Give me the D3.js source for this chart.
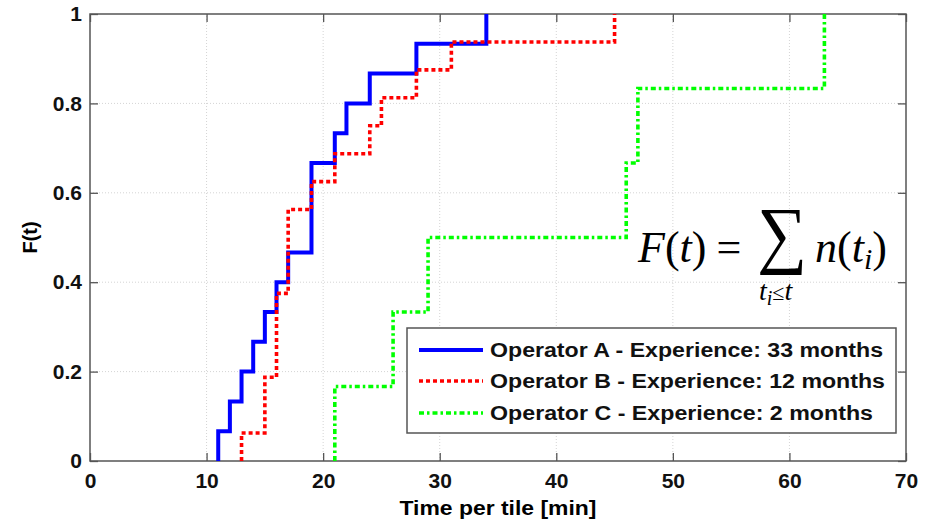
<!DOCTYPE html>
<html>
<head>
<meta charset="utf-8">
<script src="https://cdn.jsdelivr.net/npm/d3@7"></script>
<style>
  body { margin: 0; background: #fff; }
  text { font-family: "Liberation Sans", Arial, sans-serif; }
  text.math { font-family: "Liberation Serif", "DejaVu Serif", serif; }
</style>
</head>
<body>
<div id="chart"></div>
<script>
const width = 926;
const height = 520;
const margin = { top: 14, right: 20, bottom: 59, left: 90 };

// tile times per operator [min], one entry per tile
const opA = [11, 12, 13, 14, 15, 16, 17, 19, 19, 19, 21, 22, 24, 28, 34];
const opB = [13, 15, 15, 16, 16, 16, 17, 17, 17, 19, 21, 24, 25, 28, 31, 45];
const opC = [21, 26, 29, 46, 47, 63];

const seriesNames = [
  "Operator A - Experience: 33 months",
  "Operator B - Experience: 12 months",
  "Operator C - Experience: 2 months",
];
const xTicks = [0, 10, 20, 30, 40, 50, 60, 70];
const yTicks = [0, 0.2, 0.4, 0.6, 0.8, 1];

const colors = ["#0000ff", "#ff0000", "#00ff00"];
const dashes = [null, "4,3", "5,3,2.5,3"];
const legendWidths = [393, 395, 383];

let svg = d3
  .select("#chart")
  .append("svg")
  .attr("width", width)
  .attr("height", height);

let x = d3.scaleLinear().domain([0, 70]).range([margin.left, width - margin.right]);
let y = d3.scaleLinear().domain([0, 1]).range([height - margin.bottom, margin.top]);

// grid
svg
  .selectAll(".vgrid")
  .data(xTicks.slice(1, -1))
  .enter()
  .append("line")
  .attr("x1", (d) => x(d))
  .attr("x2", (d) => x(d))
  .attr("y1", y(0))
  .attr("y2", y(1))
  .attr("stroke", "#d4d4d4")
  .attr("stroke-dasharray", "1,2");
svg
  .selectAll(".hgrid")
  .data(yTicks.slice(1, -1))
  .enter()
  .append("line")
  .attr("x1", x(0))
  .attr("x2", x(70))
  .attr("y1", (d) => y(d))
  .attr("y2", (d) => y(d))
  .attr("stroke", "#d4d4d4")
  .attr("stroke-dasharray", "1,2");

// axes (matlab style: ticks inside, on all four sides)
function styleAxis(g) {
  g.select(".domain").remove();
  g.selectAll(".tick line").attr("stroke", "#555").attr("stroke-width", 1.3);
  g.selectAll(".tick text")
    .attr("font-size", 21)
    .attr("font-weight", "bold")
    .attr("fill", "#111");
}
svg.append("g")
  .attr("transform", `translate(0,${y(0)})`)
  .call(d3.axisBottom(x).tickValues(xTicks).tickSizeInner(-8).tickPadding(12))
  .call(styleAxis);
svg.append("g")
  .attr("transform", `translate(0,${y(1)})`)
  .call(d3.axisTop(x).tickValues(xTicks).tickSizeInner(-8).tickFormat(""))
  .call(styleAxis);
svg.append("g")
  .attr("transform", `translate(${x(0)},0)`)
  .call(d3.axisLeft(y).tickValues(yTicks).tickSizeInner(-8).tickPadding(8).tickFormat(d3.format("~g")))
  .call(styleAxis);
svg.append("g")
  .attr("transform", `translate(${x(70)},0)`)
  .call(d3.axisRight(y).tickValues(yTicks).tickSizeInner(-8).tickFormat(""))
  .call(styleAxis);

svg.append("rect")
  .attr("x", x(0))
  .attr("y", y(1))
  .attr("width", x(70) - x(0))
  .attr("height", y(0) - y(1))
  .attr("fill", "none")
  .attr("stroke", "#555")
  .attr("stroke-width", 1.5);

// empirical cdf of each operator
function ecdf(times) {
  let n = times.length;
  let uniq = Array.from(new Set(times)).sort((a, b) => a - b);
  let pts = [[uniq[0], 0]];
  uniq.forEach((t) => {
    pts.push([t, times.filter((v) => v <= t).length / n]);
  });
  return pts;
}

let line = d3
  .line()
  .x((d) => x(d[0]))
  .y((d) => y(d[1]))
  .curve(d3.curveStepAfter);

[opA, opB, opC].forEach((times, i) => {
  svg.append("path")
    .datum(ecdf(times))
    .attr("d", line)
    .attr("fill", "none")
    .attr("stroke", colors[i])
    .attr("stroke-width", i === 0 ? 4 : 3.6)
    .attr("stroke-dasharray", dashes[i]);
});

// axis titles
svg.append("text")
  .attr("x", (x(0) + x(70)) / 2)
  .attr("y", 515)
  .attr("text-anchor", "middle")
  .attr("font-size", 20)
  .attr("font-weight", "bold")
  .attr("textLength", 197)
  .attr("lengthAdjust", "spacingAndGlyphs")
  .text("Time per tile [min]");
svg.append("text")
  .attr("transform", `translate(37,${(y(0) + y(1)) / 2}) rotate(-90)`)
  .attr("text-anchor", "middle")
  .attr("font-size", 20)
  .attr("font-weight", "bold")
  .text("F(t)");

// formula
let formula = svg.append("g");
let lhs = formula.append("text").attr("class", "math").attr("x", 638).attr("y", 262).attr("font-size", 44);
lhs.append("tspan").attr("font-style", "italic").text("F");
lhs.append("tspan").text("(");
lhs.append("tspan").attr("font-style", "italic").text("t");
lhs.append("tspan").text(")");
lhs.append("tspan").attr("dx", 10).text("=");
formula.append("text")
  .attr("class", "math")
  .attr("x", 757)
  .attr("y", 259)
  .attr("font-size", 75)
  .attr("textLength", 50)
  .attr("lengthAdjust", "spacingAndGlyphs")
  .text("∑");
let rhs = formula.append("text").attr("class", "math").attr("x", 815).attr("y", 262).attr("font-size", 44);
rhs.append("tspan").attr("font-style", "italic").text("n");
rhs.append("tspan").text("(");
rhs.append("tspan").attr("font-style", "italic").text("t");
rhs.append("tspan").attr("font-style", "italic").attr("font-size", 30).attr("dy", 7).text("i");
rhs.append("tspan").attr("dy", -7).text(")");
let sub = formula.append("text").attr("class", "math").attr("x", 759).attr("y", 300).attr("font-size", 28);
sub.append("tspan").attr("font-style", "italic").text("t");
sub.append("tspan").attr("font-style", "italic").attr("font-size", 20).attr("dy", 5).text("i");
sub.append("tspan").attr("dy", -5).attr("font-size", 22).text("≤");
sub.append("tspan").attr("font-style", "italic").text("t");

// legend
let legend = svg.append("g");
legend.append("rect")
  .attr("x", 407)
  .attr("y", 328)
  .attr("width", 489)
  .attr("height", 105)
  .attr("fill", "#fff")
  .attr("stroke", "#555")
  .attr("stroke-width", 1.5);
let rows = [350, 381, 413];
seriesNames.forEach((name, i) => {
  legend.append("line")
    .attr("x1", 419)
    .attr("x2", 483)
    .attr("y1", rows[i])
    .attr("y2", rows[i])
    .attr("stroke", colors[i])
    .attr("stroke-width", i === 0 ? 3.8 : 3.4)
    .attr("stroke-dasharray", dashes[i]);
  legend.append("text")
    .attr("x", 490)
    .attr("y", rows[i] + 7)
    .attr("font-size", 20)
    .attr("font-weight", "bold")
    .attr("fill", "#111")
    .attr("textLength", legendWidths[i])
    .attr("lengthAdjust", "spacingAndGlyphs")
    .text(name);
});
</script>
</body>
</html>
